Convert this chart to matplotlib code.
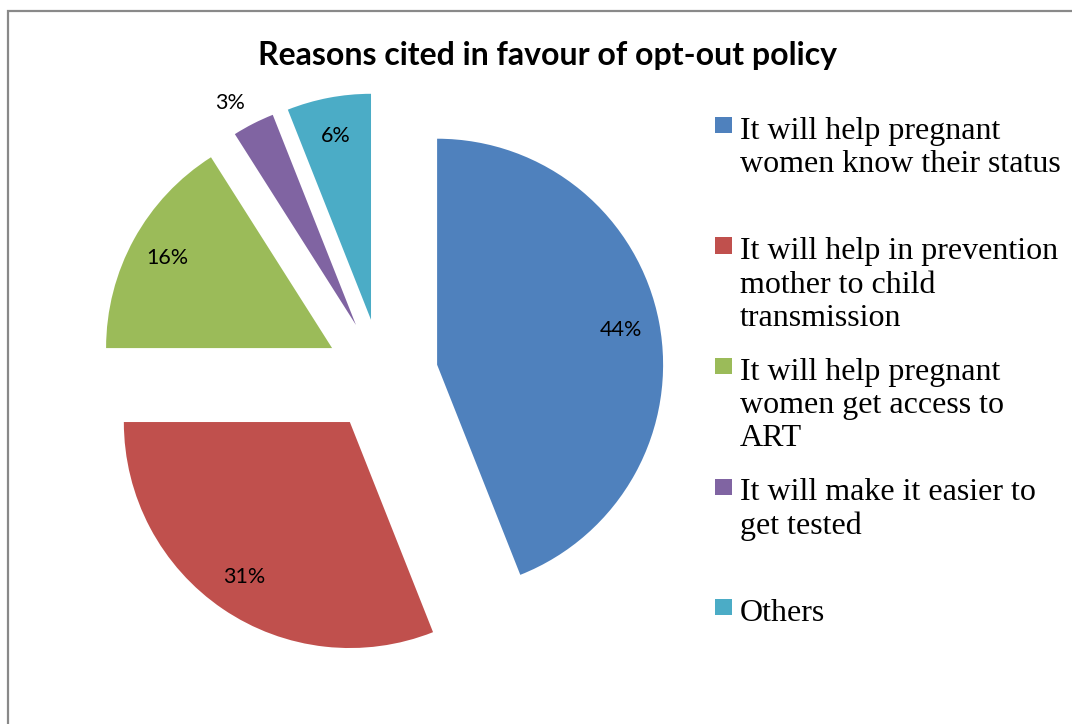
import numpy as np
import matplotlib.pyplot as plt
from matplotlib.patches import Rectangle

# survey responses (percent of respondents)
reasons = [
    'It will help pregnant\nwomen know their status',
    'It will help in prevention\nmother to child\ntransmission',
    'It will help pregnant\nwomen get access to\nART',
    'It will make it easier to\nget tested',
    'Others',
]
shares = [44, 31, 16, 3, 6]
colors = ['#4F81BD', '#C0504D', '#9BBB59', '#8064A2', '#4BACC6']

W, H = 1072, 724
fig = plt.figure(figsize=(W / 100, H / 100), dpi=100)

# grey chart border, running off the right and bottom edges
fig.patches.append(Rectangle((8 / W, -0.05), 1.1, 1 - 11 / H + 0.05,
                             transform=fig.transFigure, fill=False,
                             edgecolor='#898989', linewidth=1.6))

fig.text(548 / W, 1 - 55 / H, 'Reasons cited in favour of opt-out policy',
         ha='center', va='center', fontsize=23, fontweight='bold',
         family='Lato')

# pie: centre at (381, 375) px, radius 226 px
cx, cy, r = 381.6, 375.3, 226.0
lim = 1.5
half = lim * r
ax = fig.add_axes([(cx - half) / W, (H - cy - half) / H, 2 * half / W, 2 * half / H])

explode = [0.25] * len(shares)
wedges, texts, autotexts = ax.pie(shares, colors=colors, explode=explode,
                                  startangle=90, counterclock=False,
                                  autopct='%1.0f%%', pctdistance=0.83,
                                  wedgeprops=dict(linewidth=0),
                                  textprops=dict(fontsize=15.5, family='Lato'))
ax.set_xlim(-lim, lim)
ax.set_ylim(-lim, lim)
ax.axis('off')

# the tiny slice gets its label pushed outside
w = wedges[3]
mid = np.deg2rad((w.theta1 + w.theta2) / 2 + 2)
autotexts[3].set_position(((0.25 + 1.13) * np.cos(mid), (0.25 + 1.13) * np.sin(mid)))

# legend drawn by hand: equal slots, text top-aligned with the marker
pitch = 120.5
for i, (lab, col) in enumerate(zip(reasons, colors)):
    ytop = 117 + i * pitch
    fig.patches.append(Rectangle((715 / W, 1 - (ytop + 16) / H), 17 / W, 16 / H,
                                 transform=fig.transFigure, facecolor=col,
                                 edgecolor='none'))
    fig.text(740 / W, 1 - ytop / H, lab, ha='left', va='top',
             fontsize=23, family='Liberation Serif', linespacing=1.19)

fig.savefig('out.png', dpi=100)
